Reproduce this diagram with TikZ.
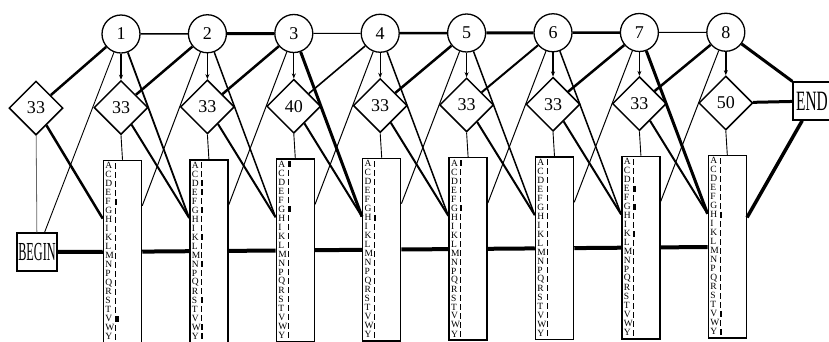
\documentclass[tikz,border=0pt]{standalone}
\usepackage{fontspec}
\usepackage{graphicx}
\setmainfont{Liberation Serif}
\usetikzlibrary{shapes.geometric,calc,arrows.meta}
\newcommand\mkprofile[2]{%
  \foreach \L [count=\j] in {A,C,D,E,F,G,H,I,K,L,M,N,P,Q,R,S,T,V,W,Y}{%
    \node[letter] (m#1l\j) at ([xshift=2.5pt,yshift={(-6-9*(\j-1))*1pt}]m#1.north west) {\L};}
  \foreach \w [count=\j] in {#2}{%
    \fill ([xshift=12pt,yshift={(-3-9*(\j-1))*1pt}]m#1.north west) rectangle ++(\w,6);}
}
\begin{document}
\begin{tikzpicture}[x=1pt,y=-1pt,
  dstate/.style={circle,draw,fill=white,line width=1.3pt,minimum size=38pt,inner sep=0pt,font=\fontsize{18}{18}\selectfont},
  istate/.style={diamond,draw,fill=white,line width=1.5pt,minimum width=54pt,minimum height=54pt,inner sep=0pt,font=\fontsize{18}{18}\selectfont},
  mstate/.style={rectangle,draw,fill=white,line width=1.5pt,minimum width=38pt,minimum height=182.5pt,inner sep=0pt},
  term/.style={rectangle,draw,fill=white,line width=1.3pt,inner sep=0pt,minimum height=38pt},
  letter/.style={inner sep=0pt,anchor=west,font=\fontsize{9.5}{9.5}\selectfont},
  arr/.style={-{Stealth[length=5pt,width=4pt]}}
]
\useasboundingbox (0,0) rectangle (829,341);
\fill[white] (0,0) rectangle (829,341);

% nodes
\foreach \i/\lab in {1/33,2/33,3/40,4/33,5/33,6/33,7/33,8/50}{
  \pgfmathsetmacro\xc{121+86.4*(\i-1)}
  \pgfmathsetmacro\yc{34-0.25*(\i-1)}
  \pgfmathsetmacro\yd{107.5-0.65*(\i-1)}
  \pgfmathsetmacro\ym{251.75-0.7*(\i-1)}
  \node[dstate] (c\i) at (\xc,\yc) {\i};
  \node[istate] (d\i) at (\xc,\yd) {\lab};
  \node[mstate] (m\i) at (\xc+1.5,\ym) {};
  \coordinate (mi\i) at ($(m\i.north west)!0.32!(m\i.south west)$);
  \coordinate (mo\i) at ($(m\i.north east)!0.25!(m\i.south east)$);
}
\node[istate] (d0) at (36,108) {33};
\node[term,minimum width=40pt] (beginst) at (37,252) {\scalebox{0.47}[1]{\fontsize{26}{26}\selectfont BEGIN}};
\node[term,minimum width=38pt] (endst) at (812,101) {\scalebox{0.55}[1]{\fontsize{28}{28}\selectfont END}};
\coordinate (endb) at ($(endst.south west)!0.25!(endst.south east)$);
\coordinate (mo8e) at ($(m8.north east)!0.34!(m8.south east)$);

% profiles
\mkprofile{1}{1,1.2,1,1,2,1.2,1,1,1,1,1.5,1,1,1,1,1,1,4,1,1}
\mkprofile{2}{1.2,1,1.5,1.5,1,1.5,1,1,2,1,1,2,1,1,1,1.5,1,1,1.5,1.5}
\mkprofile{3}{3.5,1,1,1,1,3,1,1,1,1,1,1,1,1,1,1.5,1,1.5,1.5,1}
\mkprofile{4}{1,1,1,1.5,1,1,2,1,1,1,1,1,1,1,1,1,1,1,1.5,1}
\mkprofile{5}{1.5,1,1,1,1,1.5,1,1,1,1,1,1,1,1,1,1,1,1,1,1}
\mkprofile{6}{1,1,1.5,1,1,1,1,1,1,1.5,1,1,1,1,1,1,1,1,1,1}
\mkprofile{7}{1,1,1,2.5,1,3,1,1,1.5,1,1,1,1,1,1,1,1,1,1,1}
\mkprofile{8}{1,1,1,1,1,1,2.5,1,1,1,1,1,1,1,1,1,1,2.5,1,2}

% match chain
\draw[line width=4pt] (beginst) -- (m1);
\foreach \i/\n in {1/2,2/3,3/4,4/5,5/6,6/7,7/8}
  \draw[line width=4pt] (m\i) -- (m\n);
% delete chain
\foreach \i/\n/\w in {1/2/1.6,2/3/3,3/4/1,4/5/2.5,5/6/3,6/7/2.5,7/8/1}
  \draw[line width=\w pt] (c\i) -- (c\n);
% delete -> insert
\foreach \i/\w in {1/1.2,2/1.2,3/1.2,4/1.2,5/1.2,6/1.2,7/1.2,8/2}
  \draw[line width=\w pt,arr] (c\i) -- (d\i);
% insert -> next delete
\foreach \i/\n/\w in {0/1/2.5,1/2/2.5,2/3/2.5,3/4/1.6,4/5/2.5,5/6/2,6/7/2.5,7/8/2.5}
  \draw[line width=\w pt] (d\i) -- (c\n);
% insert -> next match
\foreach \i/\n/\w in {0/1/2.5,1/2/2,2/3/2,3/4/2,4/5/2,5/6/2,6/7/2,7/8/2}
  \draw[line width=\w pt] (d\i) -- (mi\n);
% delete -> next match
\foreach \i/\n/\w in {1/2/1.8,2/3/1.5,3/4/3,4/5/1.5,5/6/1.5,6/7/1.5,7/8/3}
  \draw[line width=\w pt] (c\i) -- (mi\n);
% match -> next delete
\foreach \i/\n in {1/2,2/3,3/4,4/5,5/6,6/7,7/8}
  \draw[line width=1pt] (mo\i) -- (c\n);
% match -> insert
\foreach \i in {1,...,8}
  \draw[line width=0.9pt] (d\i.south) -- (m\i.north);
% begin
\draw[line width=0.9pt] (beginst) -- (c1);
\draw[line width=0.8pt,black!60] (beginst) -- (d0);
% end
\draw[line width=3pt] (c8) -- (endst.north west);
\draw[line width=3pt] (d8) -- (endst);
\draw[line width=3.5pt] (mo8e) -- (endb);
\end{tikzpicture}
\end{document}
